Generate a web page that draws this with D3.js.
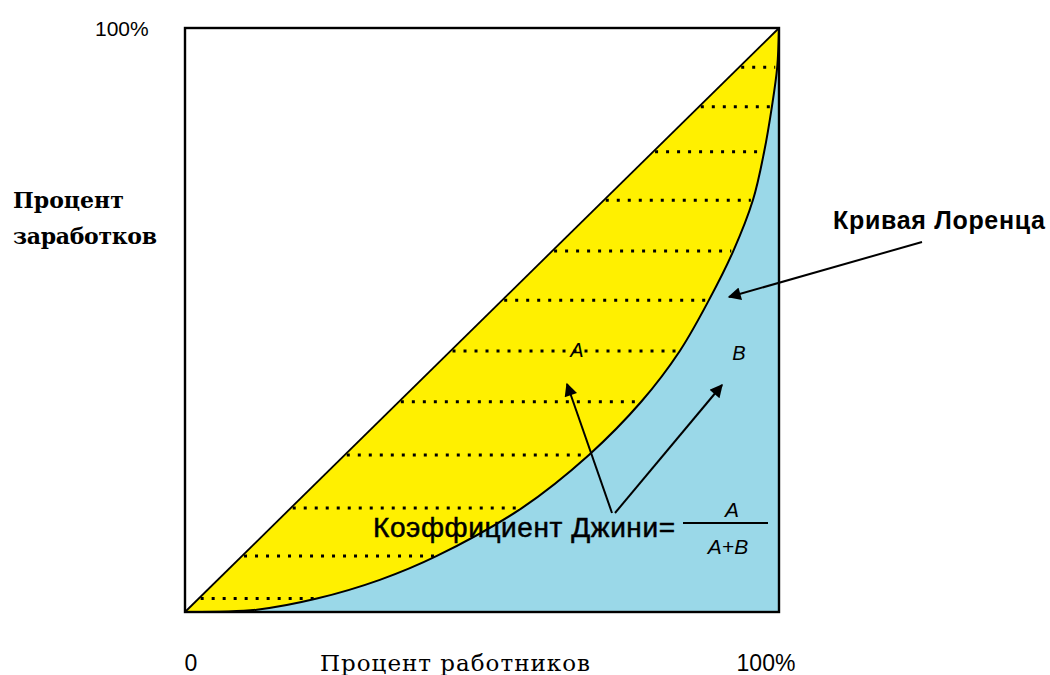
<!DOCTYPE html>
<html lang="ru">
<head>
    <meta charset="UTF-8">
    <title>Кривая Лоренца</title>
    <script src="https://d3js.org/d3.v7.min.js"></script>
    <style>
        body { margin: 0; background: #fff; }
        svg { display: block; }
        .sans { font-family: "Liberation Sans", Arial, sans-serif; }
        .serif { font-family: "DejaVu Serif", "Liberation Serif", serif; }
    </style>
</head>
<body>
<svg id="chart" width="1050" height="675"></svg>
<script>
    // Lorenz curve (percent of workers -> percent of earnings)
    const lorenzX = [0, 12.1, 22.2, 32.8, 42.4, 56.7, 68.0, 76.8, 83.3, 88.2, 92.3, 95.6, 97.5, 98.8, 99.7, 100];
    const lorenzY = [0, 0.4, 2.3, 5.5, 9.6, 17.8, 26.9, 36.0, 44.7, 53.4, 61.8, 70.5, 78.8, 86.5, 93.3, 100];
    // rows of dotted hatching inside area A (indices into the curve points)
    const hatchRows = [2, 4, 5, 6, 7, 8, 9, 10, 11, 12, 13, 14];

    const yellow = "#fff000";
    const blue = "#9ad8e8";

    const svg = d3.select("#chart");
    const x = d3.scaleLinear().domain([0, 100]).range([185, 779]);
    const y = d3.scaleLinear().domain([0, 100]).range([612, 28]);

    const pts = lorenzX.map((v, i) => [v, lorenzY[i]]);

    // Area A: triangle under the equality line (B is painted over it)
    svg.append("path")
        .attr("d", d3.line().x(d => x(d[0])).y(d => y(d[1]))([[0, 0], [100, 100], [100, 0]]) + "Z")
        .attr("fill", yellow);

    // Area B: under the Lorenz curve
    const curveLine = d3.line().x(d => x(d[0])).y(d => y(d[1])).curve(d3.curveCatmullRom.alpha(0.5));
    svg.append("path")
        .attr("d", curveLine(pts) + `L${x(100)},${y(0)}Z`)
        .attr("fill", blue);

    // dotted hatching in A, from the diagonal to the curve
    svg.selectAll("line.hatch")
        .data(hatchRows)
        .enter()
        .append("line")
        .attr("class", "hatch")
        .attr("x1", i => x(lorenzY[i]) + 2)
        .attr("x2", i => x(lorenzX[i]) - 2)
        .attr("y1", i => y(lorenzY[i]))
        .attr("y2", i => y(lorenzY[i]))
        .attr("stroke", "#000")
        .attr("stroke-width", 3)
        .attr("stroke-dasharray", "3,8");

    // Lorenz curve and equality line
    svg.append("path")
        .attr("d", curveLine(pts))
        .attr("fill", "none")
        .attr("stroke", "#000")
        .attr("stroke-width", 2);
    svg.append("line")
        .attr("x1", x(0)).attr("y1", y(0))
        .attr("x2", x(100)).attr("y2", y(100))
        .attr("stroke", "#000")
        .attr("stroke-width", 1.8);

    // frame
    svg.append("rect")
        .attr("x", x(0)).attr("y", y(100))
        .attr("width", x(100) - x(0)).attr("height", y(0) - y(100))
        .attr("fill", "none")
        .attr("stroke", "#000")
        .attr("stroke-width", 2.4);

    // arrow marker
    svg.append("defs").append("marker")
        .attr("id", "head")
        .attr("viewBox", "0 0 10 10")
        .attr("refX", 9).attr("refY", 5)
        .attr("markerWidth", 15).attr("markerHeight", 13)
        .attr("markerUnits", "userSpaceOnUse")
        .attr("orient", "auto")
        .append("path")
        .attr("d", "M0,0L10,5L0,10Z")
        .attr("fill", "#000");

    const arrows = [
        [922, 242, 729, 297],
        [612, 513, 567, 384],
        [615, 513, 722, 385]
    ];
    svg.selectAll("line.arrow")
        .data(arrows)
        .enter()
        .append("line")
        .attr("class", "arrow")
        .attr("x1", d => d[0]).attr("y1", d => d[1])
        .attr("x2", d => d[2]).attr("y2", d => d[3])
        .attr("stroke", "#000")
        .attr("stroke-width", 2)
        .attr("marker-end", "url(#head)");

    // texts
    svg.append("text").attr("class", "sans")
        .attr("x", 95).attr("y", 36)
        .attr("font-size", 21)
        .text("100%");

    const yLab = svg.append("text").attr("class", "serif")
        .attr("font-size", 22).attr("font-weight", "bold");
    yLab.append("tspan").attr("x", 13).attr("y", 208).text("Процент");
    yLab.append("tspan").attr("x", 13).attr("y", 244).attr("textLength", 144).text("заработков");

    svg.append("text").attr("class", "sans")
        .attr("x", 833).attr("y", 229)
        .attr("font-size", 25).attr("font-weight", "bold")
        .attr("textLength", 212)
        .text("Кривая Лоренца");

    svg.append("text").attr("class", "sans")
        .attr("x", 577).attr("y", 357)
        .attr("font-size", 20).attr("font-style", "italic")
        .attr("text-anchor", "middle")
        .text("A");
    svg.append("text").attr("class", "sans")
        .attr("x", 739).attr("y", 360)
        .attr("font-size", 20).attr("font-style", "italic")
        .attr("text-anchor", "middle")
        .text("B");

    svg.append("text").attr("class", "sans")
        .attr("x", 373).attr("y", 537)
        .attr("font-size", 28)
        .attr("stroke", "#000").attr("stroke-width", 0.5)
        .attr("textLength", 302)
        .text("Коэффициент Джини=");
    svg.append("line")
        .attr("x1", 683).attr("x2", 768)
        .attr("y1", 523).attr("y2", 523)
        .attr("stroke", "#000").attr("stroke-width", 2);
    svg.append("text").attr("class", "sans")
        .attr("x", 732).attr("y", 517)
        .attr("font-size", 21).attr("font-style", "italic")
        .attr("text-anchor", "middle")
        .text("A");
    svg.append("text").attr("class", "sans")
        .attr("x", 728).attr("y", 554)
        .attr("font-size", 21).attr("font-style", "italic")
        .attr("text-anchor", "middle")
        .text("A+B");

    svg.append("text").attr("class", "sans")
        .attr("x", 191).attr("y", 671)
        .attr("font-size", 23)
        .attr("text-anchor", "middle")
        .text("0");
    svg.append("text").attr("class", "serif")
        .attr("x", 320).attr("y", 671)
        .attr("font-size", 23)
        .attr("textLength", 270)
        .text("Процент работников");
    svg.append("text").attr("class", "sans")
        .attr("x", 766).attr("y", 671)
        .attr("font-size", 23)
        .attr("text-anchor", "middle")
        .text("100%");
</script>
</body>
</html>
